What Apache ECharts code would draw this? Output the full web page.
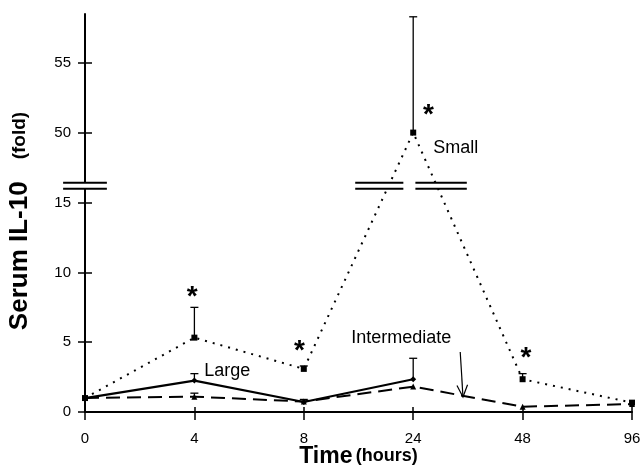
<!DOCTYPE html>
<html><head><meta charset="utf-8">
<script src="https://cdn.jsdelivr.net/npm/echarts@6/dist/echarts.min.js"></script>
<style>html,body{margin:0;padding:0;background:#fff}#c{width:641px;height:469px}</style>
</head><body><div id="c"></div>
<script>
// ---- data ----
const timeLabels = ['0', '4', '8', '24', '48', '96'];
const small = [1.0, 5.33, 3.09, 50.0, 2.35, 0.67];
const smallErrTop = [null, 7.5, 3.3, 58.3, 2.75, null];
const large = [1.0, 2.25, 0.72, 2.35];
const largeErrTop = [null, 2.75, null, 3.85];
const intermediate = [1.0, 1.1, 0.75, 1.82, 0.38, 0.57];
const intermediateErrTop = [null, 1.35, 0.9, null, null, null];
const yTickValues = [0, 5, 10, 15, 50, 55];
const breakStart = 16.0;
const breakEnd = 46.4;
const yMax = 58.5;
// annotation anchors in data space [x index, value]
const starAnchors = [[0.98, 8.8], [1.96, 4.95], [3.14, 51.8], [4.03, 4.4]];
const seriesLabels = [
  {name: 'Small', at: [3.39, 48.9]},
  {name: 'Large', at: [1.30, 2.94]},
  {name: 'Intermediate', at: [2.89, 5.31]}
];
const arrowFrom = [3.43, 4.3];
const arrowTo = [3.455, 1.08];
const breakMarkSpans = [[-0.2, 0.2], [2.47, 2.91], [3.02, 3.49]];

const FONT = 'Liberation Sans, Arial, Helvetica, sans-serif';
const chart = echarts.init(document.getElementById('c'), null, {renderer: 'canvas'});

function pts(arr) { return arr.map((v, i) => [i, v]); }
function errData(vals, tops) {
  const out = [];
  vals.forEach((v, i) => { if (tops[i] != null) out.push([i, v, tops[i]]); });
  return out;
}
const allErr = errData(small, smallErrTop).concat(errData(large, largeErrTop), errData(intermediate, intermediateErrTop));

const yBase = {
  type: 'value', min: 0, max: yMax, position: 'left',
  breaks: [{start: breakStart, end: breakEnd, gap: '1.5%'}],
  breakArea: {show: false},
  splitLine: {show: false}
};
const xBase = {
  type: 'value', min: 0, max: timeLabels.length - 1, interval: 1, position: 'bottom',
  splitLine: {show: false}
};

const option = {
  animation: false,
  backgroundColor: '#fff',
  textStyle: {fontFamily: FONT},
  grid: {left: 85, right: 9, top: 14, bottom: 57, containLabel: false, outerBoundsMode: 'none'},
  xAxis: [
    Object.assign({}, xBase, {
      axisLine: {show: true, lineStyle: {color: '#000', width: 2}},
      axisTick: {show: true, inside: false, length: 8, lineStyle: {color: '#000', width: 1.5}},
      axisLabel: {color: '#000', fontSize: 15, fontFamily: FONT, margin: 19,
        formatter: v => timeLabels[Math.round(v)] ?? ''},
      name: '{a|Time} {b|(hours)}',
      nameLocation: 'middle', nameGap: 33, nameMoveOverlap: false,
      nameTextStyle: {rich: {
        a: {fontSize: 23, fontWeight: 'bold', color: '#000', fontFamily: FONT},
        b: {fontSize: 18, fontWeight: 'bold', color: '#000', fontFamily: FONT}
      }}
    }),
    Object.assign({}, xBase, {
      axisLine: {show: false},
      axisTick: {show: true, inside: true, length: 5, lineStyle: {color: '#000', width: 1.5}},
      axisLabel: {show: false}
    })
  ],
  yAxis: [
    Object.assign({}, yBase, {
      axisLine: {show: true, lineStyle: {color: '#000', width: 2}},
      axisTick: {show: true, inside: false, length: 7, customValues: yTickValues, lineStyle: {color: '#000', width: 1.5}},
      axisLabel: {show: true, customValues: yTickValues, color: '#000', fontSize: 15, fontFamily: FONT, margin: 14},
      name: '{a|Serum IL-10}{b|(fold)}',
      nameLocation: 'middle', nameRotate: 90, nameGap: 52, nameMoveOverlap: false,
      nameTextStyle: {rich: {
        a: {fontSize: 26, fontWeight: 'bold', color: '#000', fontFamily: FONT},
        b: {fontSize: 19, fontWeight: 'bold', color: '#000', fontFamily: FONT, padding: [0, 16, 0, 22]}
      }}
    }),
    Object.assign({}, yBase, {
      axisLine: {show: false},
      axisTick: {show: true, inside: true, length: 7, customValues: yTickValues, lineStyle: {color: '#000', width: 1.5}},
      axisLabel: {show: false}
    })
  ],
  series: [
    {
      name: 'Small', type: 'line', data: pts(small),
      symbol: 'rect', symbolSize: 6, showSymbol: true,
      itemStyle: {color: '#000'},
      lineStyle: {color: '#000', width: 2, type: [2, 6]}, z: 3
    },
    {
      name: 'Large', type: 'line', data: pts(large),
      symbol: 'diamond', symbolSize: 6,
      itemStyle: {color: '#000'},
      lineStyle: {color: '#000', width: 2.2, type: 'solid'}, z: 3
    },
    {
      name: 'Intermediate', type: 'line', data: pts(intermediate),
      symbol: 'triangle', symbolSize: 6,
      itemStyle: {color: '#000'},
      lineStyle: {color: '#000', width: 2, type: [14, 7]}, z: 3
    },
    {
      name: 'err', type: 'custom', data: allErr, z: 4,
      renderItem: function (params, api) {
        const p0 = api.coord([api.value(0), api.value(1)]);
        const p1 = api.coord([api.value(0), api.value(2)]);
        const style = {stroke: '#000', lineWidth: 1.3};
        return {type: 'group', children: [
          {type: 'line', shape: {x1: p0[0], y1: p0[1], x2: p1[0], y2: p1[1]}, style: style},
          {type: 'line', shape: {x1: p1[0] - 4, y1: p1[1], x2: p1[0] + 4, y2: p1[1]}, style: style}
        ]};
      }
    },
    {
      name: 'stars', type: 'scatter', data: starAnchors, symbolSize: 1,
      itemStyle: {color: 'rgba(0,0,0,0)', opacity: 1},
      label: {show: true, position: 'inside', formatter: '*', fontSize: 28, fontWeight: 'bold', color: '#000',
        textBorderWidth: 0, fontFamily: FONT, offset: [0, 8]}, z: 5
    },
    {
      name: 'labels', type: 'scatter', symbolSize: 1,
      data: seriesLabels.map(d => ({value: d.at, name: d.name})),
      itemStyle: {color: 'rgba(0,0,0,0)', opacity: 1},
      label: {show: true, position: 'inside', formatter: '{b}', fontSize: 18, color: '#000',
        textBorderWidth: 0, fontFamily: FONT}, z: 5
    },
    {
      name: 'arrow', type: 'custom', data: [[arrowFrom[0], arrowFrom[1], arrowTo[0], arrowTo[1]]], z: 5,
      renderItem: function (params, api) {
        const a = api.coord([api.value(0), api.value(1)]);
        const b = api.coord([api.value(2), api.value(3)]);
        const ang = Math.atan2(b[1] - a[1], b[0] - a[0]);
        const L = 13, w = 0.42;
        const h1 = [b[0] - L * Math.cos(ang - w), b[1] - L * Math.sin(ang - w)];
        const h2 = [b[0] - L * Math.cos(ang + w), b[1] - L * Math.sin(ang + w)];
        const style = {stroke: '#000', lineWidth: 1.2, fill: null};
        return {type: 'group', children: [
          {type: 'line', shape: {x1: a[0], y1: a[1], x2: b[0], y2: b[1]}, style: style},
          {type: 'polyline', shape: {points: [h1, b, h2]}, style: style}
        ]};
      }
    },
    {
      name: 'breaks', type: 'custom', data: breakMarkSpans, z: 6, clip: false,
      renderItem: function (params, api) {
        const x0 = api.value(0), x1 = api.value(1);
        const a0 = api.coord([x0, breakStart]), a1 = api.coord([x1, breakStart]);
        const b0 = api.coord([x0, breakEnd]), b1 = api.coord([x1, breakEnd]);
        const style = {stroke: '#000', lineWidth: 2};
        return {type: 'group', children: [
          {type: 'rect', shape: {x: a0[0], y: b0[1], width: a1[0] - a0[0], height: a0[1] - b0[1]}, style: {fill: '#fff'}},
          {type: 'line', shape: {x1: a0[0], y1: a0[1], x2: a1[0], y2: a1[1]}, style: style},
          {type: 'line', shape: {x1: b0[0], y1: b0[1], x2: b1[0], y2: b1[1]}, style: style}
        ]};
      }
    }
  ]
};
chart.setOption(option);
</script>
</body></html>
